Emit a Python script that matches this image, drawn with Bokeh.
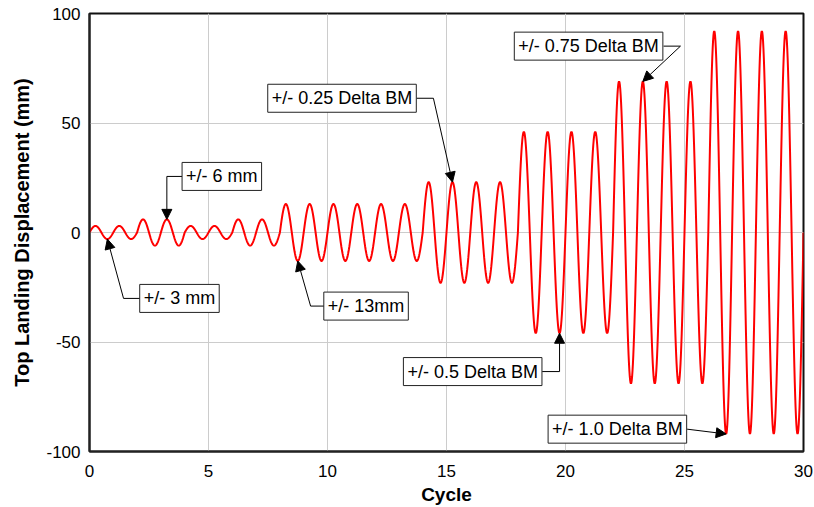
import numpy as np
from bokeh.plotting import figure
from bokeh.models import Label, Arrow, NormalHead, FixedTicker, Range1d
from bokeh.embed import file_html
from bokeh.resources import INLINE

# ---- data ----
cycle_amplitudes = [3, 3, 6, 6, 3, 3, 6, 6,
                    13, 13, 13, 13, 13, 13,
                    23, 23, 23, 23,
                    46, 46, 46, 46,
                    69, 69, 69, 69,
                    92, 92, 92, 92]
x_ticks = [0, 5, 10, 15, 20, 25, 30]
y_ticks = [-100, -50, 0, 50, 100]
y_tick_labels = ["-100", "-50", "0", "50", "100"]

ann_text = ["+/- 3 mm", "+/- 6 mm", "+/- 13mm", "+/- 0.25 Delta BM",
            "+/- 0.5 Delta BM", "+/- 0.75 Delta BM", "+/- 1.0 Delta BM"]
ann_cycle = [0, 3, 8, 15, 19, 23, 26]
ann_is_peak = [False, True, False, True, False, True, False]

# ---- layout of callouts (box centre, box edge, elbow) in data units ----
box_cx = [3.78, 5.56, 11.62, 10.61, 16.10, 20.97, 22.18]
box_cy = [-30.1, 25.6, -33.6, 61.3, -63.5, 85.1, -89.8]
edge_x = [2.14, 3.895, 9.92, 13.74, 19.02, 24.12, 25.11]
elbow_x = [1.43, None, 9.29, 14.45, None, 24.83, None]

# ---- build the displacement history ----
xs, ys = [0.0], [0.0]
for c, a in enumerate(cycle_amplitudes):
    t = np.linspace(0, 1, 61)[1:]
    xs.extend(list(c + t))
    ys.extend(list(a * np.sin(2 * np.pi * t)))

p = figure(width=814, height=507, output_backend="svg", toolbar_location=None,
           x_range=Range1d(0, 30), y_range=Range1d(-100, 100),
           min_border_left=89, min_border_right=11, min_border_top=13,
           min_border_bottom=56)

p.background_fill_color = "white"
p.border_fill_color = "white"
p.outline_line_color = "#111111"
p.outline_line_width = 2
p.outline_line_alpha = 1

p.xgrid.ticker = FixedTicker(ticks=x_ticks)
p.ygrid.ticker = FixedTicker(ticks=y_ticks)
p.grid.grid_line_color = "#cccccc"
p.grid.grid_line_width = 1

p.xaxis.ticker = FixedTicker(ticks=x_ticks)
p.yaxis.ticker = FixedTicker(ticks=y_ticks)
p.yaxis.major_label_overrides = {v: s for v, s in zip(y_ticks, y_tick_labels)}

for ax in (p.xaxis[0], p.yaxis[0]):
    ax.major_tick_in = 0
    ax.major_tick_out = 0
    ax.minor_tick_in = 0
    ax.minor_tick_out = 0
    ax.axis_line_color = "#222222"
    ax.axis_line_width = 2
    ax.major_label_text_font = "Liberation Sans"
    ax.major_label_text_font_size = "17px"
    ax.major_label_text_color = "black"
    ax.axis_label_text_font = "Liberation Sans"
    ax.axis_label_text_font_style = "bold"
    ax.axis_label_text_color = "black"

p.xaxis.axis_label_text_font_size = "19px"
p.yaxis.axis_label_text_font_size = "20px"
p.xaxis.axis_label = "Cycle"
p.yaxis.axis_label = "Top Landing Displacement (mm)"
p.xaxis.major_label_standoff = 13
p.xaxis.axis_label_standoff = 4
p.yaxis.major_label_standoff = 9
p.yaxis.axis_label_standoff = 10

p.line(xs, ys, line_color="#ff0000", line_width=2)

for i, txt in enumerate(ann_text):
    c = ann_cycle[i]
    a = cycle_amplitudes[c]
    tip_x = c + (0.25 if ann_is_peak[i] else 0.75)
    tip_y = a if ann_is_peak[i] else -a
    by = box_cy[i]
    if i in (1, 4):
        p.line([edge_x[i], tip_x], [by, by], line_color="black", line_width=1)
        sx, sy = tip_x, by
    elif elbow_x[i] is not None:
        p.line([edge_x[i], elbow_x[i]], [by, by], line_color="black", line_width=1)
        sx, sy = elbow_x[i], by
    else:
        sx, sy = edge_x[i], by
    p.add_layout(Arrow(end=NormalHead(size=10, fill_color="black", line_color="black",
                                      line_width=1),
                       x_start=sx, y_start=sy, x_end=tip_x, y_end=tip_y,
                       line_color="black", line_width=1))
    p.add_layout(Label(x=box_cx[i], y=by, text=txt, text_align="center",
                       text_baseline="middle", text_font="Liberation Sans",
                       text_font_size="18px", text_color="black",
                       background_fill_color="white", border_line_color="#222222",
                       border_line_width=1, padding=4))

open("out.html", "w").write(file_html(p, INLINE))
